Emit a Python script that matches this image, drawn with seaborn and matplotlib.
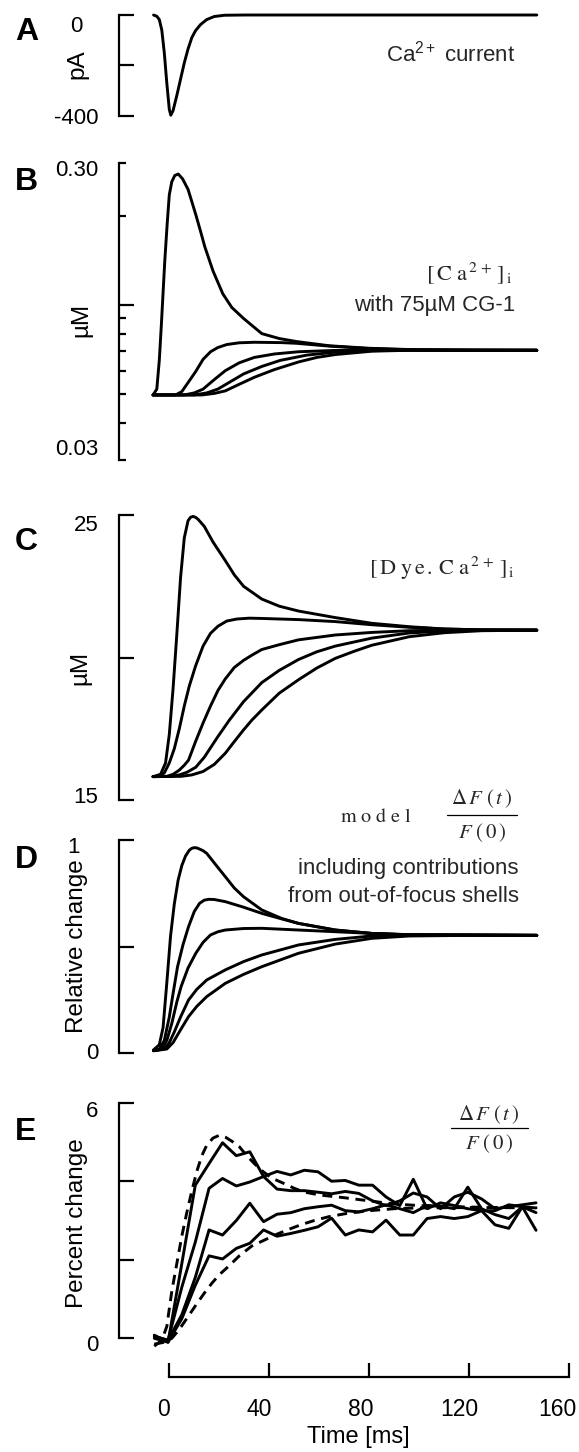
import numpy as np
import pandas as pd
import matplotlib
matplotlib.use("Agg")
import matplotlib.pyplot as plt
import seaborn as sns
from matplotlib.transforms import ScaledTranslation
from matplotlib.lines import Line2D
from matplotlib.ticker import FixedLocator, NullFormatter

# ---------------- data ----------------
# Panel A : Ca2+ current (pA)
a_t = [-6.3, -5, -4, -3, -2, -1, 0, 0.6, 1.5, 3, 4.5, 6, 7.5, 9, 10.5, 12.5, 15, 18, 22, 30, 147]
a_i = [0, -5, -18, -60, -150, -270, -375, -398, -380, -320, -255, -190, -135, -90, -62, -38, -18, -6, -1, 0, 0]

# Panel B : [Ca2+]i (uM, log axis), five shells
b1_t = [-6.5, -5, -4, -3.2, -1.8, -0.8, 0, 1, 2.2, 3.6, 5.3, 7.5, 9, 10.7, 12.5, 14.2, 17.5, 21.4, 25, 29.7, 37, 44, 51, 64, 80, 96, 120, 147]
b1_v = [0.0497, 0.052, 0.065, 0.085, 0.141, 0.19, 0.235, 0.26, 0.273, 0.276, 0.266, 0.245, 0.223, 0.20, 0.177, 0.157, 0.13, 0.109, 0.098, 0.090, 0.080, 0.077, 0.0752, 0.0728, 0.0714, 0.0707, 0.0703, 0.0703]
b2_t = [-6.5, 2.5, 5, 7.7, 10.5, 13.5, 16.5, 19.4, 23, 28, 34, 45, 51, 64, 80, 96, 147]
b2_v = [0.0497, 0.0497, 0.051, 0.055, 0.0595, 0.0655, 0.0695, 0.0718, 0.0735, 0.0745, 0.0748, 0.0746, 0.0742, 0.0726, 0.0712, 0.0706, 0.0703]
b3_t = [-6.5, 6, 10, 13.5, 18, 22.4, 28, 34, 42, 51.7, 66, 80, 147]
b3_v = [0.0497, 0.0497, 0.0505, 0.052, 0.056, 0.060, 0.0638, 0.0665, 0.0683, 0.0695, 0.0702, 0.0703, 0.0703]
b4_t = [-6.5, 10, 15, 19.4, 24, 29.7, 37, 44.4, 55, 66.4, 81, 96, 147]
b4_v = [0.0497, 0.0497, 0.0505, 0.052, 0.0548, 0.0585, 0.062, 0.065, 0.0677, 0.0693, 0.0701, 0.0703, 0.0703]
b5_t = [-6.5, 13, 18, 22.4, 28, 34, 42, 51.7, 59, 66.4, 81, 96, 147]
b5_v = [0.0497, 0.0497, 0.0503, 0.0513, 0.054, 0.057, 0.0605, 0.0642, 0.0665, 0.068, 0.0698, 0.0703, 0.0703]

# Panel C : [Dye.Ca2+]i (uM)
c1_t = [-6.5, -3.5, -1.5, 0, 1.5, 3, 4.5, 6, 7.5, 8.5, 9.5, 10.5, 11.5, 14, 17.5, 22.4, 26, 29.7, 37, 44, 51.7, 66.4, 81, 96, 110, 125, 147]
c1_v = [15.82, 15.9, 16.3, 17.3, 18.9, 20.8, 22.8, 24.2, 24.8, 24.92, 24.95, 24.92, 24.85, 24.6, 24.05, 23.4, 22.9, 22.5, 22.05, 21.8, 21.63, 21.4, 21.2, 21.08, 21.0, 20.97, 20.96]
c2_t = [-6.5, -4, -2, 0, 2, 4, 6, 8, 10.5, 13.5, 16.5, 19.5, 23, 27, 32, 37, 51.7, 66.4, 81, 96, 110, 125, 147]
c2_v = [15.82, 15.84, 15.95, 16.3, 16.8, 17.5, 18.3, 19.0, 19.7, 20.4, 20.85, 21.1, 21.28, 21.35, 21.38, 21.37, 21.33, 21.26, 21.15, 21.06, 21.0, 20.97, 20.96]
c3_t = [-6.5, -1, 1.5, 4, 6, 7.7, 10.5, 13.5, 16.5, 19.5, 22.4, 26, 29.7, 33, 37, 44, 51.7, 66.4, 81, 96, 110, 147]
c3_v = [15.82, 15.83, 15.9, 16.05, 16.22, 16.4, 17.05, 17.7, 18.3, 18.85, 19.25, 19.65, 19.9, 20.08, 20.28, 20.45, 20.62, 20.79, 20.88, 20.94, 20.96, 20.96]
c4_t = [-6.5, 1, 4, 7, 10.6, 14, 17, 19.4, 24, 29.7, 37, 44, 51.7, 59, 66.4, 81, 96, 110, 125, 147]
c4_v = [15.82, 15.83, 15.88, 15.97, 16.15, 16.5, 16.9, 17.22, 17.8, 18.45, 19.12, 19.55, 19.93, 20.2, 20.4, 20.68, 20.86, 20.93, 20.96, 20.96]
c5_t = [-6.5, 4.7, 9, 13.5, 18, 22.4, 26, 29.7, 33, 37, 44, 51.7, 59, 66.4, 74, 81, 96, 110, 125, 147]
c5_v = [15.82, 15.83, 15.88, 16.0, 16.25, 16.64, 17.05, 17.46, 17.8, 18.16, 18.75, 19.22, 19.63, 19.97, 20.22, 20.43, 20.73, 20.87, 20.94, 20.96]

# Panel D : model relative change
d1_t = [-6.3, -4, -2.5, -1, 0.5, 2, 3.5, 5, 6.5, 8, 9, 9.9, 11, 12, 13.5, 15, 18.5, 22.4, 26, 29.7, 37, 45, 51.7, 66.4, 81, 96, 147]
d1_v = [0.016, 0.04, 0.12, 0.33, 0.55, 0.70, 0.81, 0.88, 0.925, 0.952, 0.961, 0.964, 0.963, 0.958, 0.95, 0.937, 0.885, 0.828, 0.775, 0.734, 0.672, 0.632, 0.609, 0.578, 0.562, 0.555, 0.553]
d2_t = [-6.3, -4, -2, 0, 1.5, 3.3, 5.5, 7.7, 10, 12.1, 14, 15.8, 18, 22.4, 29.7, 37, 45, 51.7, 66.4, 81, 96, 147]
d2_v = [0.014, 0.02, 0.06, 0.17, 0.28, 0.406, 0.51, 0.594, 0.665, 0.703, 0.718, 0.722, 0.721, 0.711, 0.685, 0.656, 0.63, 0.609, 0.578, 0.562, 0.556, 0.553]
d3_t = [-6.3, -3, -1, 1, 3, 4.7, 7.5, 10.6, 13.5, 16.5, 19.5, 22.4, 29.7, 37, 51.7, 66.4, 81, 96, 147]
d3_v = [0.013, 0.02, 0.06, 0.14, 0.24, 0.312, 0.40, 0.469, 0.52, 0.555, 0.570, 0.578, 0.585, 0.586, 0.578, 0.570, 0.562, 0.556, 0.553]
d4_t = [-6.3, -2, 0, 2, 4.5, 7.7, 11, 15, 22.4, 29.7, 37, 51.7, 66.4, 81, 96, 147]
d4_v = [0.012, 0.02, 0.05, 0.10, 0.17, 0.25, 0.30, 0.344, 0.391, 0.43, 0.461, 0.508, 0.534, 0.55, 0.555, 0.553]
d5_t = [-6.3, -1, 1.5, 4.5, 7.7, 11, 15, 22.4, 29.7, 37, 51.7, 66.4, 81, 96, 120, 147]
d5_v = [0.012, 0.02, 0.05, 0.11, 0.172, 0.22, 0.266, 0.328, 0.37, 0.406, 0.469, 0.512, 0.539, 0.55, 0.553, 0.553]

# Panel E : measured percent change (solid) and model (dashed)
e_t = [-6.0, -0.5, 5.0, 10.4, 15.9, 21.3, 26.8, 32.2, 37.7, 43.1, 48.6, 54.0, 59.5, 64.9, 70.4,
       75.8, 81.3, 86.7, 92.2, 97.6, 103.1, 108.5, 114.0, 119.4, 124.9, 130.3, 135.8, 141.2, 146.7]
e_s1 = [0.08, -0.1, 1.9, 3.9, 4.45, 4.98, 4.65, 4.75, 4.12, 3.8, 3.76, 3.76, 3.72, 3.68, 3.74,
        3.69, 3.5, 3.38, 3.5, 3.7, 3.6, 3.3, 3.6, 3.72, 3.55, 3.3, 3.35, 3.4, 3.45]
e_s2 = [0.05, -0.05, 1.3, 2.45, 3.82, 4.07, 3.88, 3.98, 4.12, 4.25, 4.16, 4.28, 4.24, 4.0, 4.02,
        3.9, 3.9, 3.6, 3.38, 4.05, 3.3, 3.45, 3.38, 3.3, 3.25, 3.25, 3.4, 3.35, 3.32]
e_s3 = [0.05, -0.05, 0.6, 1.55, 2.76, 2.63, 3.0, 3.44, 2.97, 3.16, 3.2, 3.3, 3.35, 3.39, 3.25,
        3.22, 3.3, 3.4, 3.3, 3.2, 3.38, 3.36, 3.3, 3.85, 3.3, 3.15, 3.05, 3.35, 3.2]
e_s4 = [0.0, -0.1, 0.5, 1.35, 2.1, 2.02, 2.29, 2.42, 2.76, 2.6, 2.67, 2.75, 2.84, 3.06, 2.63,
        2.76, 2.71, 3.01, 2.63, 2.63, 3.05, 3.1, 3.05, 3.1, 3.25, 2.89, 2.8, 3.35, 2.75]
ef_t = [-6, -3, -1, 1, 3, 5, 7, 9, 11, 13, 15, 17.5, 20, 22.5, 25, 28, 31, 34, 37.6, 41, 45.6, 50,
        53.6, 60, 70, 80, 90, 100, 115, 130, 147]
ef_v = [-0.2, -0.05, 0.3, 1.2, 1.9, 2.6, 3.2, 3.75, 4.25, 4.65, 4.92, 5.1, 5.17, 5.12, 5.02, 4.88,
        4.65, 4.45, 4.24, 4.08, 3.95, 3.82, 3.73, 3.65, 3.58, 3.5, 3.42, 3.38, 3.35, 3.33, 3.32]
es_t = [-6, -2, 1, 3, 5, 8, 11, 14, 17, 20, 24, 28, 33, 38, 43, 48, 53, 58, 64, 71, 80, 90, 100, 120, 147]
es_v = [-0.15, -0.1, 0.0, 0.15, 0.32, 0.6, 0.88, 1.15, 1.4, 1.62, 1.85, 2.1, 2.35, 2.5, 2.65, 2.78,
        2.9, 3.0, 3.1, 3.18, 3.25, 3.3, 3.32, 3.33, 3.33]

x_ticks = [0, 40, 80, 120, 160]

# ---------------- figure ----------------
sns.set_theme(style="white")
plt.rcParams["font.family"] = ["Liberation Sans", "DejaVu Sans"]
plt.rcParams["mathtext.fontset"] = "stix"
plt.rcParams["axes.linewidth"] = 1.5

W, H = 579, 1452
fig = plt.figure(figsize=(W / 100, H / 100), dpi=100)
fig.patch.set_facecolor("white")

LEFT, RIGHT = 119.0, 569.3
X0 = 169.3
PPM = 2.5
XLIM = ((LEFT - X0) / PPM, (RIGHT - X0) / PPM)


def add_ax(top, bottom):
    return fig.add_axes([LEFT / W, 1 - bottom / H, (RIGHT - LEFT) / W, (bottom - top) / H])


def fpos(x, y):
    return x / W, 1 - y / H


def shift(labels, offsets):
    for lab, (dx, dy) in zip(labels, offsets):
        lab.set_transform(lab.get_transform() + ScaledTranslation(dx / 100, -dy / 100, fig.dpi_scale_trans))


LW = 2.1
TICKFS = 16
LABFS = 17.5
TXTFS = 16


def style(ax, ylim, bottom_axis=False):
    ax.set_xlim(*XLIM)
    ax.set_ylim(*ylim)
    ax.set_facecolor("none")
    for s in ["top", "right"]:
        ax.spines[s].set_visible(False)
    ax.spines["left"].set_color("black")
    ax.spines["left"].set_linewidth(1.6)
    if not bottom_axis:
        ax.spines["bottom"].set_visible(False)
        ax.set_xticks([])
    ax.tick_params(axis="y", which="both", direction="in", width=1.6, pad=15.0,
                   labelsize=TICKFS, colors="black", left=True)
    ax.tick_params(axis="y", which="major", length=11)
    ax.tick_params(axis="y", which="minor", length=5.3)
    ax.grid(False)


def curves(ax, pairs):
    frames = []
    for k, (t, v) in enumerate(pairs):
        frames.append(pd.DataFrame({"t": t, "v": v, "curve": k}))
    df = pd.concat(frames, ignore_index=True)
    sns.lineplot(data=df, x="t", y="v", units="curve", estimator=None, color="black",
                 lw=LW, ax=ax, legend=False, clip_on=False, sort=False)
    ax.set_xlabel("")
    ax.set_ylabel("")


def ylabel(ax, text, x, y):
    ax.set_ylabel(text, fontsize=LABFS, color="black")
    ax.yaxis.set_label_coords(x / W, 1 - y / H, transform=fig.transFigure)
    ax.yaxis.label.set_verticalalignment("center")
    ax.yaxis.label.set_horizontalalignment("center")


# ---- A ----
axA = add_ax(15, 115.7)
curves(axA, [(a_t, a_i)])
style(axA, (-400, 0))
axA.set_yticks([-400, -200, 0], labels=["-400", "", "0"])
ylabel(axA, "pA", 77, 64)

# ---- B ----
axB = add_ax(163.3, 460)
curves(axB, [(b1_t, b1_v), (b2_t, b2_v), (b3_t, b3_v), (b4_t, b4_v), (b5_t, b5_v)])
axB.set_yscale("log")
style(axB, (0.03, 0.3))
axB.yaxis.set_major_locator(FixedLocator([0.1]))
axB.yaxis.set_major_formatter(NullFormatter())
b_minor = [0.03, 0.04, 0.05, 0.06, 0.07, 0.08, 0.09, 0.2, 0.3]
axB.set_yticks(b_minor, labels=["0.03", "", "", "", "", "", "", "", "0.30"], minor=True)
axB.tick_params(axis="y", which="minor", labelsize=TICKFS)
ylabel(axB, "µM", 81, 320)

# ---- C ----
axC = add_ax(515, 800)
curves(axC, [(c1_t, c1_v), (c2_t, c2_v), (c3_t, c3_v), (c4_t, c4_v), (c5_t, c5_v)])
style(axC, (15, 25))
axC.set_yticks([15, 20, 25], labels=["15", "", "25"])
ylabel(axC, "µM", 80, 668)

# ---- D ----
axD = add_ax(840, 1053.3)
curves(axD, [(d1_t, d1_v), (d2_t, d2_v), (d3_t, d3_v), (d4_t, d4_v), (d5_t, d5_v)])
style(axD, (0, 1))
axD.set_yticks([0, 0.5, 1], labels=["0", "", "1"])
ylabel(axD, "Relative change", 76.5, 946)

# ---- E ----
axE = add_ax(1102.7, 1338.3)
frames = []
for k, v in enumerate([e_s1, e_s2, e_s3, e_s4]):
    frames.append(pd.DataFrame({"t": e_t, "v": v, "curve": f"s{k}", "kind": "data"}))
frames.append(pd.DataFrame({"t": ef_t, "v": ef_v, "curve": "mf", "kind": "model"}))
frames.append(pd.DataFrame({"t": es_t, "v": es_v, "curve": "ms", "kind": "model"}))
dfE = pd.concat(frames, ignore_index=True)
sns.lineplot(data=dfE, x="t", y="v", units="curve", style="kind",
             dashes={"data": "", "model": (3.4, 2.3)}, estimator=None, color="black",
             lw=LW, ax=axE, legend=False, clip_on=False, sort=False)
style(axE, (0, 6), bottom_axis=True)
axE.set_yticks([0, 2, 4, 6], labels=["0", "", "", "6"])
ylabel(axE, "Percent change", 76.5, 1223)
axE.spines["bottom"].set_position(("outward", 38.4 * 0.72))
axE.spines["bottom"].set_bounds(0, 160)
axE.spines["bottom"].set_linewidth(1.6)
axE.spines["bottom"].set_color("black")
axE.set_xticks(x_ticks, labels=[str(v) for v in x_ticks])
axE.tick_params(axis="x", direction="in", length=10, width=1.6, pad=15.0,
                labelsize=16.5, colors="black", bottom=True)
axE.set_xlabel("Time [ms]", fontsize=17, color="black")
axE.xaxis.set_label_coords(358.5 / W, 1 - 1437 / H, transform=fig.transFigure)
axE.xaxis.label.set_verticalalignment("center")

# ---- tick-label nudges (as placed in the reference) ----
shift(axA.get_yticklabels(), [(0, 0), (0, 0), (-16, 9)])
shift(axB.get_yticklabels(minor=True), [(0, -13)] + [(0, 0)] * 7 + [(0, 5)])
shift(axC.get_yticklabels(), [(0, -5), (0, 0), (0, 8)])
shift(axD.get_yticklabels(), [(0, -2), (0, 0), (-18, 5)])
shift(axE.get_yticklabels(), [(0, 5), (0, 0), (0, 0), (0, 6)])
shift(axE.get_xticklabels(), [(-6, 0), (-10, 0), (-9, 0), (-10, 0), (-12, 0)])

# ---- panel letters ----
for letter, yc in zip("ABCDE", [31.7, 181.7, 541.7, 860, 1132.5]):
    fig.text(*fpos(15, yc), letter, fontsize=23, fontweight="bold", ha="left", va="center",
             color="black")

# ---- annotations ----
fig.text(*fpos(515, 54), r"Ca$^{\mathregular{2+}}$ current", fontsize=TXTFS, ha="right", va="center")
fig.text(*fpos(513, 273), r"$[\,\mathrm{C\,\,a}^{\,2\,+}\,]_{\,\mathrm{i}}$", fontsize=16,
         ha="right", va="center")
fig.text(*fpos(515, 305), "with 75µM CG-1", fontsize=TXTFS, ha="right", va="center")
fig.text(*fpos(515, 568), r"$[\,\mathrm{D\,\,y\,e\,.\,C\,\,a}^{\,2\,+}\,]_{\,\mathrm{i}}$", fontsize=16,
         ha="right", va="center")
fig.text(*fpos(340, 817), r"$\mathrm{m\ o\ d\ e\ l}$", fontsize=14.5, ha="left", va="center")
fig.text(*fpos(519, 868), "including contributions", fontsize=TXTFS, ha="right", va="center")
fig.text(*fpos(519, 897), "from out-of-focus shells", fontsize=TXTFS, ha="right", va="center")


def fraction(xc, y_num, y_bar, y_den, x_a, x_b):
    fig.text(*fpos(xc, y_num), r"$\Delta\,F\ (\,t\,)$", fontsize=15, ha="center", va="center")
    fig.text(*fpos(xc, y_den), r"$F\ (\,0\,)$", fontsize=15, ha="center", va="center")
    fig.add_artist(Line2D([x_a / W, x_b / W], [1 - y_bar / H, 1 - y_bar / H],
                          transform=fig.transFigure, color="black", lw=0.9))


fraction(482, 799, 815, 833, 447, 517)
fraction(489, 1115, 1128.3, 1144, 451, 528)

fig.savefig("out.png", dpi=100, facecolor="white")
